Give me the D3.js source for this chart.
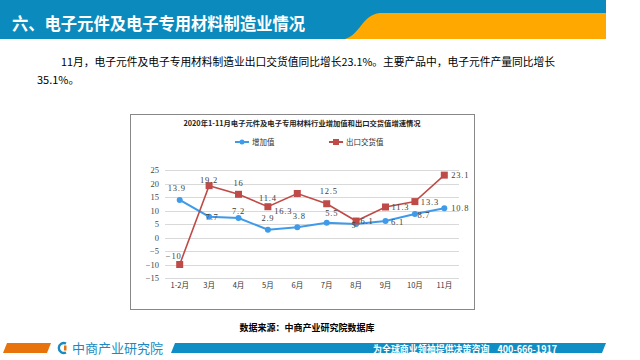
<!DOCTYPE html>
<html><head><meta charset="utf-8">
<script src="https://cdn.jsdelivr.net/npm/d3@7"></script>
<style>body{margin:0;background:#fff}svg{display:block}</style>
</head><body>
<svg id="c" width="640" height="360"></svg>
<script>
const categories = ["1-2月","3月","4月","5月","6月","7月","8月","9月","10月","11月"];
const addedValue = [13.9, 7.7, 7.2, 2.9, 3.8, 5.5, 5, 6.1, 8.7, 10.8];
const exportValue = [-10, 19.2, 16, 11.4, 16.3, 12.5, 6.1, 11.3, 13.3, 23.1];
const yTicks = [25, 20, 15, 10, 5, 0, -5, -10, -15];
const seriesNames = ["增加值", "出口交货值"];
// label centre offsets from point (style only)
const addedLabelOff = [[-3,-12],[3,0],[0,-7],[0,-12],[2,-11],[5,-10],[-2,1],[12,1],[9,1],[16,0]];
const exportLabelOff = [[-6,-9],[0,-6],[0,-11],[0,-9],[-14,18],[2,-13],[11,0],[15,0],[15,0],[16,0]];

const svg = d3.select("#c");
// header
svg.append("rect").attr("x",0).attr("y",0).attr("width",606).attr("height",39).attr("fill","#0b8bbd");
svg.append("path").attr("d","M345,39 C360,35 362,15 380,13 L606,13 L606,39 Z").attr("fill","#ffa800");
svg.append("text").attr("x",12).attr("y",30).attr("fill","#fff")
  .attr("font-family","Noto Sans CJK SC").attr("font-size",17.5).attr("font-weight","bold")
  .attr("textLength",293).attr("lengthAdjust","spacingAndGlyphs")
  .text("六、电子元件及电子专用材料制造业情况");
// paragraph
const pf = "Noto Sans CJK SC";
svg.append("text").attr("x",61).attr("y",66).attr("font-family",pf).attr("font-size",11).attr("fill","#000")
  .attr("textLength",494).attr("lengthAdjust","spacingAndGlyphs")
  .text("11月，电子元件及电子专用材料制造业出口交货值同比增长23.1%。主要产品中，电子元件产量同比增长");
svg.append("text").attr("x",37).attr("y",84).attr("font-family",pf).attr("font-size",11).attr("fill","#000")
  .text("35.1%。");

// chart box
svg.append("rect").attr("x",130.5).attr("y",114.5).attr("width",344).attr("height",195)
  .attr("fill","#fff").attr("stroke","#888").attr("stroke-width",1);
const serif = "Liberation Serif, DejaVu Serif, serif";
svg.append("text").attr("x",302).attr("y",126).attr("text-anchor","middle").attr("font-family","Noto Sans CJK SC")
  .attr("font-size",7.3).attr("font-weight","bold").attr("fill","#222")
  .text("2020年1-11月电子元件及电子专用材料行业增加值和出口交货值增速情况");

const blue = "#3f9bea", red = "#bf4b48";
const x = d3.scaleBand().domain(categories).range([165,459]);
const y = d3.scaleLinear().domain([-15,25]).range([278,170]);

// grid
const g = svg.append("g");
g.selectAll("line.grid").data(yTicks).join("line")
  .attr("x1",165).attr("x2",459).attr("y1",d=>Math.round(y(d))+0.5).attr("y2",d=>Math.round(y(d))+0.5)
  .attr("stroke","#d9d9d9").attr("stroke-width",1);
const yAxis = d3.axisLeft(y).tickValues(yTicks).tickSize(0).tickPadding(4).tickFormat(d=>d<0?"−"+Math.abs(d):d);
const ya = svg.append("g").attr("transform","translate(163,0)").call(yAxis);
ya.select(".domain").remove();
ya.selectAll("text").attr("font-family",serif).attr("font-size",8.5).attr("fill","#444");
const xAxis = d3.axisBottom(x).tickSize(0).tickPadding(0);
const xa = svg.append("g").attr("transform","translate(0,283)").call(xAxis);
xa.select(".domain").remove();
xa.selectAll("text").attr("font-family","Noto Sans CJK SC").attr("font-size",7.5).attr("fill","#333");

const cx = d => x(d) + x.bandwidth()/2;
const line = d3.line().x((d,i)=>cx(categories[i])).y(d=>y(d));
svg.append("path").datum(addedValue).attr("d",line).attr("fill","none").attr("stroke",blue).attr("stroke-width",2);
svg.append("path").datum(exportValue).attr("d",line).attr("fill","none").attr("stroke",red).attr("stroke-width",1.6);
svg.selectAll("circle.a").data(addedValue).join("circle")
  .attr("cx",(d,i)=>cx(categories[i])).attr("cy",d=>y(d)).attr("r",3).attr("fill",blue);
svg.selectAll("rect.e").data(exportValue).join("rect")
  .attr("x",(d,i)=>cx(categories[i])-3.5).attr("y",d=>y(d)-3.5).attr("width",7).attr("height",7).attr("fill",red);

const fmt = v => v<0 ? "−"+Math.abs(v) : String(v);
const lab = (data, off) => svg.append("g").selectAll("text").data(data).join("text")
  .attr("x",(d,i)=>cx(categories[i])+off[i][0]).attr("y",(d,i)=>y(d)+off[i][1]+3)
  .attr("text-anchor","middle")
  .attr("font-family",serif).attr("font-size",8.5).attr("letter-spacing",0.8).attr("fill","#404040")
  .text(fmt);
lab(addedValue, addedLabelOff);
lab(exportValue, exportLabelOff);

// legend
const lg = svg.append("g");
lg.append("line").attr("x1",235).attr("x2",249).attr("y1",142).attr("y2",142).attr("stroke",blue).attr("stroke-width",2);
lg.append("circle").attr("cx",242).attr("cy",142).attr("r",2.5).attr("fill",blue);
lg.append("text").attr("x",252).attr("y",145).attr("font-family","Noto Sans CJK SC").attr("font-size",7.5).attr("fill","#333").text(seriesNames[0]);
lg.append("line").attr("x1",329).attr("x2",343).attr("y1",142).attr("y2",142).attr("stroke",red).attr("stroke-width",2);
lg.append("rect").attr("x",333).attr("y",139).attr("width",6).attr("height",6).attr("fill",red);
lg.append("text").attr("x",346).attr("y",145).attr("font-family","Noto Sans CJK SC").attr("font-size",7.5).attr("fill","#333").text(seriesNames[1]);

// source
svg.append("text").attr("x",307).attr("y",331).attr("text-anchor","middle").attr("font-family","Noto Sans CJK SC")
  .attr("font-size",9).attr("font-weight","bold").attr("fill","#000").text("数据来源：中商产业研究院数据库");

// footer
svg.append("path").attr("d","M7,343 L51,343 L47,353 L3,353 Z").attr("fill","#e8720c");
svg.append("path").attr("d","M175,343 L606,343 L602,353 L171,353 Z").attr("fill","#0f8ec5");
svg.append("path").attr("d","M66,343.5 A5,5 0 1 0 66,352.5").attr("fill","none").attr("stroke","#1a8ac0").attr("stroke-width",2.4);
svg.append("rect").attr("x",64).attr("y",345.5).attr("width",2.5).attr("height",5).attr("fill","#e8720c");
svg.append("text").attr("x",72).attr("y",353).attr("font-family","Noto Sans CJK SC").attr("font-size",13).attr("fill","#1a8ac0").text("中商产业研究院");
svg.append("text").attr("x",373).attr("y",352.5).attr("font-family","Noto Sans CJK SC").attr("font-size",10).attr("font-weight","bold").attr("fill","#fff")
  .attr("textLength",184).attr("lengthAdjust","spacingAndGlyphs")
  .attr("xml:space","preserve").text("为全球商业领袖提供决策咨询    400-666-1917");
</script>
</body></html>
